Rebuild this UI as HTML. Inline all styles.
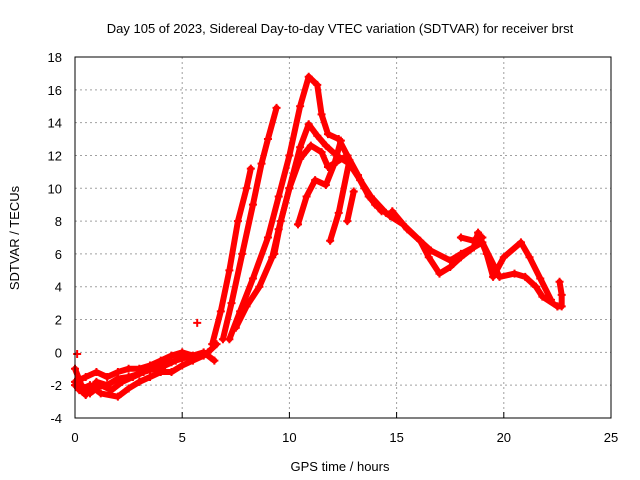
<!DOCTYPE html>
<html><head><meta charset="utf-8"><style>
body{margin:0;background:#fff}
svg{display:block;font-family:"Liberation Sans",sans-serif;font-size:13px}
</style></head><body>
<svg id="c" width="640" height="480">
<rect width="640" height="480" fill="#fff"/>
<text x="340" y="33" text-anchor="middle">Day 105 of 2023, Sidereal Day-to-day VTEC variation (SDTVAR) for receiver brst</text>
<text x="340" y="471" text-anchor="middle">GPS time / hours</text>
<text transform="translate(19,238) rotate(-90)" text-anchor="middle">SDTVAR / TECUs</text>
<g id="grid"></g><g id="data"></g>
<rect x="75" y="57" width="536" height="361" fill="none" stroke="#000"/>
</svg>
<script>
const xTicks=[0,5,10,15,20,25];
const yTicks=[-4,-2,0,2,4,6,8,10,12,14,16,18];
const track0=[[6.4,0.5],[6.8,2.5],[7.2,5],[7.6,8],[8,10],[8.2,11.2]];
const trackA=[[6.9,0.8],[7.3,3],[7.8,6],[8.3,9],[8.7,11.5],[9,13],[9.4,14.9]];
const trackB=[[7.2,0.8],[7.7,2.5],[8.3,4.5],[9,7],[9.5,9.5],[10,12],[10.5,15],[10.9,16.8],[11.3,16.3],[11.5,14.5],[11.8,13.3],[12.3,13],[12.7,12]];
const trackC=[[7.5,1.5],[8,2.8],[8.6,4],[9.2,5.8],[9.5,7.5],[10,10],[10.5,12.5],[10.9,13.9],[11.3,13.2],[11.7,12.6],[12.2,12],[12.8,11.5],[13.3,10.5],[13.8,9.5],[14.5,8.5]];
const trackD=[[9.3,6],[9.6,8],[10,10],[10.5,11.8],[11,12.6],[11.5,12.2],[11.8,11.3],[12.2,11.6],[12.7,12],[13.2,10.8],[13.7,9.5],[14.3,8.6]];
const trackE=[[10.4,7.8],[10.8,9.5],[11.2,10.5],[11.7,10.2],[12.1,11.5],[12.4,12.9]];
const trackF=[[11.9,6.8],[12.3,8.5],[12.8,11.7]];
const trackG=[[12.7,8],[13,9.8]];
const trackDesc=[[12.8,11.7],[13.5,10],[14,9],[14.7,8.3],[15.3,7.8],[16.1,6.8],[16.5,5.8],[17,4.8],[17.5,5.2],[18,5.8],[18.6,6.4],[18.8,7.3],[19.2,6],[19.5,4.6],[20,5.8],[20.8,6.7],[21.2,5.8],[21.7,4.5],[22.2,3.2]];
const trackDesc2=[[14.8,8.6],[15.5,7.5],[16.6,6.2],[17.5,5.6],[18,6],[18.6,6.4],[19,6.7],[19.8,4.6],[20.5,4.8],[21,4.6],[21.5,4],[21.8,3.4],[22.5,2.8]];
const trackH=[[18,7],[18.6,6.8],[19,7]];
const trackTail=[[22.6,4.3],[22.7,3.5],[22.7,2.8],[22.5,2.8]];
const trackEarly1=[[0,-1],[0.3,-2],[0.7,-2.5],[1.2,-2],[1.7,-2.3],[2.2,-1.8],[2.7,-1.5],[3.2,-1.2],[3.7,-1],[4.2,-0.8],[4.7,-0.5],[5.2,-0.3],[5.7,-0.2],[6.2,0],[6.6,0.5]];
const trackEarly2=[[0,-1.8],[0.5,-1.5],[1,-1.2],[1.5,-1.5],[2,-1.2],[2.5,-1],[3,-1],[3.5,-0.8],[4,-0.5],[4.5,-0.2],[5,0],[5.5,-0.2],[6,0],[6.5,-0.5]];
const trackEarly3=[[0.2,-2.3],[0.7,-2],[1.2,-2.5],[2,-2.7],[2.5,-2.2],[3,-1.8],[3.5,-1.5],[4,-1.2],[4.5,-1.2],[5,-0.8],[5.5,-0.5],[6,-0.2]];
const trackEarly4=[[0,-2],[0.5,-2.6],[1,-1.8],[1.5,-2],[2,-1.6],[2.5,-1.5],[3,-1.3],[3.5,-1],[4,-0.7],[4.5,-0.6],[5,-0.3]];
const isolated=[[0.1,-0.1],[5.7,1.8]];
const tracks=[track0,trackA,trackB,trackC,trackD,trackE,trackF,trackG,trackDesc,trackDesc2,trackH,trackTail,trackEarly1,trackEarly2,trackEarly3,trackEarly4];
const NS="http://www.w3.org/2000/svg";
const X=v=>75+v*536/25, Y=v=>418-(v+4)*361/22;
const grid=document.getElementById('grid'), data=document.getElementById('data');
function mk(t,a,p){const e=document.createElementNS(NS,t);for(const k in a)e.setAttribute(k,a[k]);p.appendChild(e);return e;}
xTicks.forEach(t=>{
 if(t>0&&t<25){const l=mk('line',{x1:X(t),x2:X(t),y1:57,y2:418,stroke:'#a0a0a0','stroke-dasharray':'2,3'},grid);
 
 }
 const tk=mk('line',{x1:X(t),x2:X(t),y1:418,y2:412,stroke:'#000'},grid);
 
 
 const tx=mk('text',{x:X(t),y:442,'text-anchor':'middle'},grid);tx.textContent=t;
 
 
});
yTicks.forEach(t=>{
 if(t>-4&&t<18){const l=mk('line',{x1:75,x2:611,y1:Y(t),y2:Y(t),stroke:'#a0a0a0','stroke-dasharray':'2,3'},grid);
 
 }
 const tx=mk('text',{x:62,y:Y(t)+5,'text-anchor':'end'},grid);tx.textContent=t;
 
 
});
function plus(x,y){const p=mk('path',{d:`M${X(x)-4},${Y(y)}h8M${X(x)},${Y(y)-4}v8`,stroke:'#f00','stroke-width':2},data);
 
 }
tracks.forEach(tr=>{
 const pl=mk('polyline',{points:tr.map(p=>X(p[0])+','+Y(p[1])).join(' '),fill:'none',stroke:'#f00','stroke-width':6,'stroke-linejoin':'round','stroke-linecap':'round'},data);
 
 
 tr.forEach(p=>plus(p[0],p[1]));
});
isolated.forEach(p=>plus(p[0],p[1]));
</script>
</body></html>
